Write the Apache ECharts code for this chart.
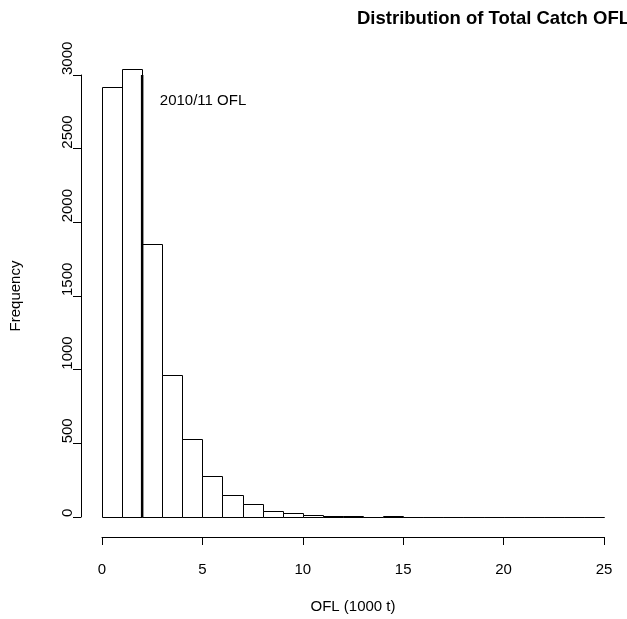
<!DOCTYPE html>
<html><head><meta charset="utf-8">
<script src="https://cdn.jsdelivr.net/npm/echarts@6/dist/echarts.min.js"></script>
<style>html,body{margin:0;padding:0;background:#fff}#c{width:627px;height:619px}</style>
</head><body><div id="c"></div>
<script>
// ---- data ----
const binStarts = [0,1,2,3,4,5,6,7,8,9,10,11,12,13,14,15,16,17,18,19,20,21,22,23,24];
const binWidth = 1;
const counts = [2920,3040,1850,962,528,278,152,88,42,24,16,9,4,1,5,0,0,0,0,0,0,0,0,0,0];
const xTicks = [0,5,10,15,20,25];
const yTicks = [0,500,1000,1500,2000,2500,3000];
const oflValue = [2.0];
const oflLineRange = [0, 3000];
const annotationX = [2.88];
const annotationY = [2825];
const annotationText = ['2010/11 OFL'];
const titleText = 'Distribution of Total Catch OFL';
const xName = 'OFL (1000 t)';
const yName = 'Frequency';

const FONT = "'Liberation Sans', Arial, Helvetica, sans-serif";
const histData = binStarts.map((s, i) => [s, s + binWidth, counts[i]]);

const chart = echarts.init(document.getElementById('c'), null, {renderer: 'canvas'});
chart.setOption({
  animation: false,
  backgroundColor: '#ffffff',
  title: {
    text: titleText, left: 352, top: 4,
    textStyle: {fontFamily: FONT, fontSize: 18.5, fontWeight: 'bold', color: '#000'}
  },
  grid: {left: 99, right: 23, top: 75, bottom: 99},
  xAxis: {
    type: 'value', min: xTicks[0], max: xTicks[xTicks.length - 1], interval: 5,
    offset: 20,
    name: xName, nameLocation: 'middle', nameGap: 62,
    nameTextStyle: {fontFamily: FONT, fontSize: 15, color: '#000'},
    axisLine: {show: true, onZero: false, lineStyle: {color: '#000', width: 1}},
    axisTick: {show: true, length: 8, lineStyle: {color: '#000'}},
    axisLabel: {margin: 25, fontFamily: FONT, fontSize: 15, color: '#000',
      formatter: v => String(v)},
    splitLine: {show: false}
  },
  yAxis: {
    type: 'value', min: yTicks[0], max: yTicks[yTicks.length - 1], interval: 500,
    offset: 21,
    name: yName, nameLocation: 'middle', nameGap: 58, nameRotate: 90,
    nameTextStyle: {fontFamily: FONT, fontSize: 15, color: '#000'},
    axisLine: {show: true, onZero: false, lineStyle: {color: '#000', width: 1}},
    axisTick: {show: true, length: 8, lineStyle: {color: '#000'}},
    axisLabel: {margin: 6, rotate: 90, align: 'left', verticalAlign: 'bottom',
      fontFamily: FONT, fontSize: 15, color: '#000', formatter: v => String(v)},
    splitLine: {show: false}
  },
  series: [
    {
      type: 'custom', clip: false, z: 2,
      data: histData,
      renderItem: function (params, api) {
        const p0 = api.coord([api.value(0), 0]);
        const p1 = api.coord([api.value(1), api.value(2)]);
        const x0 = Math.round(p0[0]) + 0.5, x1 = Math.round(p1[0]) + 0.5;
        const yb = Math.round(p0[1]) + 0.5, yt = Math.round(p1[1]) + 0.5;
        return {type: 'rect', shape: {x: x0, y: yt, width: x1 - x0, height: yb - yt},
          style: {fill: '#fff', stroke: '#000', lineWidth: 1}};
      }
    },
    {
      type: 'line', z: 3, symbol: 'none',
      data: [[oflValue[0], oflLineRange[0]], [oflValue[0], oflLineRange[1]]],
      lineStyle: {color: '#000', width: 2.5}
    },
    {
      type: 'custom', clip: false, z: 4,
      data: annotationX.map((x, i) => [x, annotationY[i]]),
      renderItem: function (params, api) {
        const p = api.coord([api.value(0), api.value(1)]);
        return {type: 'text', x: p[0], y: p[1],
          style: {text: annotationText[params.dataIndex], fontFamily: FONT, fontSize: 15,
            fill: '#000', textAlign: 'left', textVerticalAlign: 'middle'}};
      }
    }
  ]
});
</script></body></html>
